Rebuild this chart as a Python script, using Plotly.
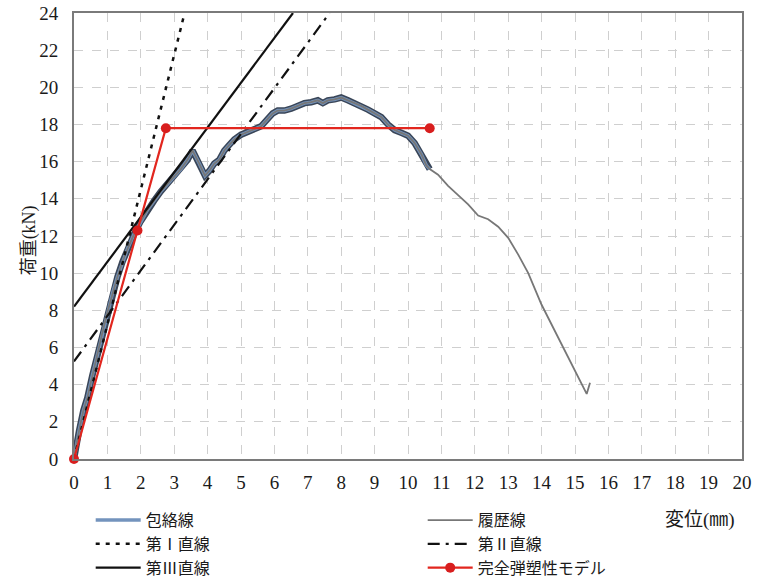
import plotly.graph_objects as go

# Envelope curve (包絡線): displacement [mm], load [kN]
env_x = [0, 0.05, 0.15, 0.28, 0.4, 0.55, 0.7, 0.85, 1.0, 1.15, 1.3, 1.45, 1.6, 1.8,
         2.0, 2.2, 2.4, 2.6, 2.8, 3.0, 3.2, 3.4, 3.55, 3.75, 3.92, 4.05, 4.2, 4.35,
         4.5, 4.65, 4.8, 5.0, 5.2, 5.45, 5.6, 5.8, 5.95, 6.1, 6.3, 6.5, 6.7, 6.9,
         7.1, 7.3, 7.45, 7.6, 7.8, 8.0, 8.2, 8.4, 8.6, 8.8, 9.0, 9.2, 9.4, 9.6,
         9.8, 10.0, 10.2, 10.4, 10.55, 10.65]
env_y = [0, 0.6, 1.5, 2.6, 3.3, 4.5, 5.6, 6.8, 7.9, 8.9, 9.8, 10.6, 11.3, 12.1,
         12.8, 13.4, 13.9, 14.4, 14.8, 15.2, 15.6, 16.1, 16.6, 15.9, 15.25, 15.5, 15.9, 16.1,
         16.6, 16.9, 17.2, 17.45, 17.6, 17.75, 17.9, 18.3, 18.6, 18.75, 18.75, 18.85, 19.0, 19.15,
         19.2, 19.3, 19.15, 19.3, 19.35, 19.45, 19.3, 19.15, 19.0, 18.8, 18.6, 18.4, 18.0, 17.7,
         17.55, 17.4, 17.0, 16.4, 15.8, 15.6]

# Post-envelope part of the load history (履歴線)
tail_x = [10.9, 11.2, 11.5, 11.8, 12.1, 12.4, 12.7, 13.0, 13.3, 13.6, 14.0, 14.4, 14.8, 15.1, 15.35, 15.45]
tail_y = [15.3, 14.7, 14.2, 13.7, 13.1, 12.9, 12.5, 11.9, 11.0, 10.0, 8.3, 6.9, 5.5, 4.4, 3.5, 4.1]

# Straight lines y = slope * x + intercept
line1_slope, line1_icpt = 7.25, 0.0     # 第I直線
line2_slope, line2_icpt = 2.45, 5.25    # 第II直線
line3_slope, line3_icpt = 2.41, 8.2     # 第III直線

# Perfect elasto-plastic model (完全弾塑性モデル)
model_x = [0, 1.9, 2.75, 10.65]
model_y = [0, 12.3, 17.8, 17.8]

X_MAX, Y_MAX = 20, 24
x_ticks = list(range(0, 21))
y_ticks = list(range(0, 25, 2))

NUM_FONT = "Liberation Serif, Times New Roman, Times, DejaVu Serif, serif"
FONT = "Liberation Serif, Times New Roman, Times, Noto Sans CJK JP, serif"
TXT = "#1a1a1a"


def seg(slope, icpt):
    x_end = (Y_MAX - icpt) / slope
    return [0, x_end], [icpt, slope * x_end + icpt]


fig = go.Figure()

hist_x = env_x + tail_x
hist_y = env_y + tail_y

fig.add_trace(go.Scatter(x=env_x, y=env_y, mode="lines", name="包絡線",
                         line=dict(color="#3a4658", width=6.5), showlegend=False,
                         hoverinfo="skip"))
fig.add_trace(go.Scatter(x=env_x, y=env_y, mode="lines", name="包絡線",
                         line=dict(color="#7393bd", width=3.5), legendrank=1))
fig.add_trace(go.Scatter(x=hist_x, y=hist_y, mode="lines", name="履歴線",
                         line=dict(color="#777777", width=1.8), legendrank=2))

x1, y1 = seg(line1_slope, line1_icpt)
fig.add_trace(go.Scatter(x=x1, y=y1, mode="lines", name="第Ⅰ直線",
                         line=dict(color="#111111", width=2.5, dash="4px,6px"), legendrank=3))
x2, y2 = seg(line2_slope, line2_icpt)
fig.add_trace(go.Scatter(x=x2, y=y2, mode="lines", name="第Ⅱ直線",
                         line=dict(color="#111111", width=2.2, dash="12px,6px,3px,6px"),
                         legendrank=4))
x3, y3 = seg(line3_slope, line3_icpt)
fig.add_trace(go.Scatter(x=x3, y=y3, mode="lines", name="第Ⅲ直線",
                         line=dict(color="#111111", width=2.2), legendrank=5))
fig.add_trace(go.Scatter(x=model_x, y=model_y, mode="lines+markers", name="完全弾塑性モデル",
                         line=dict(color="#e2261e", width=2.2),
                         marker=dict(color="#d81e1e", size=10), cliponaxis=False,
                         legendrank=6))

axis_common = dict(showline=True, linecolor="#7a7a7a", linewidth=2, mirror=True,
                   showgrid=True, gridcolor="#cfcfcf", griddash="dash", gridwidth=1,
                   zeroline=False, ticks="",
                   tickfont=dict(family=NUM_FONT, size=19, color=TXT))

fig.update_layout(
    width=760, height=576,
    margin=dict(l=74, r=18, t=13, b=117, autoexpand=False),
    paper_bgcolor="white", plot_bgcolor="white",
    font=dict(family=FONT, color=TXT),
    xaxis=dict(range=[0, X_MAX], tickvals=x_ticks, ticklabelstandoff=5, **axis_common),
    yaxis=dict(range=[0, Y_MAX], tickvals=y_ticks, ticklabelstandoff=10, **axis_common),
    legend=dict(orientation="h", x=0.025, y=-0.099, xanchor="left", yanchor="top",
                entrywidth=272, entrywidthmode="pixels", traceorder="normal",
                font=dict(family=FONT, size=16, color=TXT),
                itemwidth=45, bgcolor="rgba(0,0,0,0)"),
    annotations=[
        dict(text="荷重(kN)", textangle=-90, x=-0.066, y=0.49, xref="paper", yref="paper",
             xanchor="center", yanchor="middle",
             showarrow=False, font=dict(family=FONT, size=18, color=TXT)),
        dict(text="変位(㎜)", x=0.937, y=-0.137, xref="paper", yref="paper",
             xanchor="center", yanchor="middle",
             showarrow=False, font=dict(family=FONT, size=19, color=TXT)),
    ],
)

fig.write_html("out.html")
